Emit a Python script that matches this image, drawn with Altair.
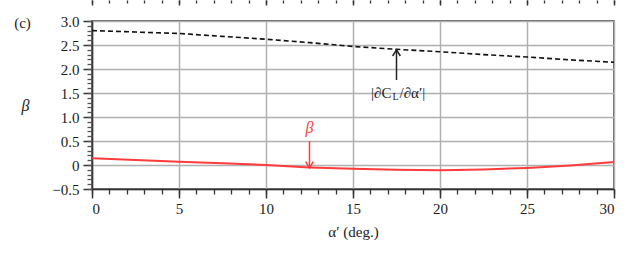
import altair as alt
import pandas as pd

# ---- data ----
alpha = [0, 2.5, 5, 7.5, 10, 12.5, 15, 17.5, 20, 22.5, 25, 27.5, 30]
dcl = [2.80, 2.77, 2.74, 2.68, 2.62, 2.55, 2.47, 2.41, 2.36, 2.30, 2.25, 2.19, 2.14]
beta = [0.14, 0.105, 0.07, 0.035, 0.0, -0.05, -0.08, -0.10, -0.11, -0.095, -0.06, -0.01, 0.06]

x_major = [0, 5, 10, 15, 20, 25, 30]
x_minor = list(range(0, 31))
y_major = [-0.5, 0, 0.5, 1.0, 1.5, 2.0, 2.5, 3.0]
y_minor = [round(-0.5 + 0.1 * i, 1) for i in range(36)]

ann_series = ["dcl", "beta"]
ann_x = [17.5, 12.5]
ann_y0 = [1.77, 0.50]
ann_y1 = [2.40, -0.06]
lab_y = [1.50, 0.77]

FONT = "Liberation Serif, Times New Roman, serif"
INK = "#222222"
RED = "#ff3b3b"
GRID = "#b0b0b0"

df = pd.DataFrame({"alpha": alpha, "dcl": dcl, "beta": beta})
ann = pd.DataFrame({"series": ann_series, "x": ann_x, "y0": ann_y0, "y1": ann_y1, "ly": lab_y})

xs = alt.Scale(domain=[0, 30], nice=False, zero=False)
ys = alt.Scale(domain=[-0.5, 3.0], nice=False, zero=False)

base = alt.Chart(df)

# main axes + dashed line
dashed = base.mark_line(color="#111111", strokeDash=[5, 3], strokeWidth=1.6).encode(
    x=alt.X("alpha:Q", scale=xs, axis=alt.Axis(
        orient="bottom", values=x_major, format="d", grid=True, gridColor=GRID, gridWidth=1.5,
        tickSize=9, tickColor="#333333", tickWidth=1.5, domainColor="#333333", domainWidth=1.5,
        labelFont=FONT, labelFontSize=15, labelColor=INK, labelPadding=3,
        title="α′ (deg.)", titleFont=FONT, titleFontSize=15, titleFontWeight="normal",
        titleColor=INK, titlePadding=8)),
    y=alt.Y("dcl:Q", scale=ys, axis=alt.Axis(
        orient="left", values=y_major, grid=True, gridColor=GRID, gridWidth=1.5,
        labelExpr="datum.value == 0 ? '0' : format(datum.value, '.1f')",
        tickSize=9, tickColor="#333333", tickWidth=1.5, domainColor="#333333", domainWidth=1.5,
        labelFont=FONT, labelFontSize=15, labelColor=INK, labelPadding=4,
        title="β", titleFont=FONT, titleFontSize=16, titleFontStyle="italic",
        titleFontWeight="normal", titleColor=INK, titleAngle=0,
        titleX=-67, titleY=84, titleAlign="center", titleBaseline="middle")),
)

# red beta line + minor ticks
red = base.mark_line(color=RED, strokeWidth=2).encode(
    x=alt.X("alpha:Q", scale=xs, axis=alt.Axis(
        orient="bottom", values=x_minor, labels=False, grid=False, domain=False,
        tickSize=5, tickColor="#333333", tickWidth=1.3, title=None)),
    y=alt.Y("beta:Q", scale=ys, axis=alt.Axis(
        orient="left", values=y_minor, labels=False, grid=False, domain=False,
        tickSize=5, tickColor="#555555", tickWidth=1.3, title=None)),
)

ab = alt.Chart(ann)
color_enc = alt.Color("series:N", scale=alt.Scale(domain=ann_series, range=[INK, RED]), legend=None)

# arrow shafts + clipped ticks of the panel above (major)
shafts = ab.mark_rule(strokeWidth=1.5).encode(
    x=alt.X("x:Q", scale=xs, axis=alt.Axis(
        orient="bottom", offset=-189, values=x_major, labels=False, grid=False, domain=False,
        tickSize=5, tickColor="#333333", tickWidth=1.5,
        title="(c)", titleFont=FONT, titleFontSize=15, titleFontWeight="normal",
        titleColor=INK, titleX=-70, titleY=22, titleAlign="center", titleBaseline="middle")),
    y=alt.Y("y0:Q", scale=ys, axis=None),
    y2="y1:Q",
    color=color_enc,
)

up = "M-1,1.6L0,0L1,1.6"
down = "M-1,-1.6L0,0L1,-1.6"
heads = ab.mark_point(filled=False, size=60, strokeWidth=1.5, opacity=1).encode(
    x=alt.X("x:Q", scale=xs, axis=alt.Axis(
        orient="bottom", offset=-189, values=x_minor, labels=False, grid=False, domain=False,
        tickSize=3, tickColor="#333333", tickWidth=1.3, title=None)),
    y=alt.Y("y1:Q", scale=ys, axis=None),
    shape=alt.Shape("series:N", scale=alt.Scale(domain=ann_series, range=[up, down]), legend=None),
    color=color_enc,
)

dcl_ann = ab.transform_filter(alt.datum.series == "dcl")
t1 = dcl_ann.mark_text(font=FONT, fontSize=15, color=INK, align="right", baseline="middle", dx=-5).encode(
    x=alt.X("x:Q", scale=xs, axis=None), y=alt.Y("ly:Q", scale=ys, axis=None), text=alt.value("|∂C"))
t2 = dcl_ann.mark_text(font=FONT, fontSize=10, color=INK, align="center", baseline="middle", dx=-1, dy=4).encode(
    x=alt.X("x:Q", scale=xs, axis=None), y=alt.Y("ly:Q", scale=ys, axis=None), text=alt.value("L"))
t3 = dcl_ann.mark_text(font=FONT, fontSize=15, color=INK, align="left", baseline="middle", dx=3).encode(
    x=alt.X("x:Q", scale=xs, axis=None), y=alt.Y("ly:Q", scale=ys, axis=None), text=alt.value("/∂α′|"))
tb = ab.transform_filter(alt.datum.series == "beta").mark_text(
    font=FONT, fontSize=16, fontStyle="italic", color=RED, align="center", baseline="middle").encode(
    x=alt.X("x:Q", scale=xs, axis=None), y=alt.Y("ly:Q", scale=ys, axis=None), text=alt.value("β"))

chart = alt.layer(dashed, red, shafts, heads, t1, t2, t3, tb).resolve_axis(
    x="independent", y="independent"
).properties(
    width=522, height=168,
    autosize=alt.AutoSizeParams(type="none"),
    padding={"left": 92, "top": 21, "right": 28, "bottom": 75},
    background="white",
).configure_view(stroke="#333333", strokeWidth=1.5)

chart.save("out.html", embed_options={"renderer": "svg", "actions": False})
